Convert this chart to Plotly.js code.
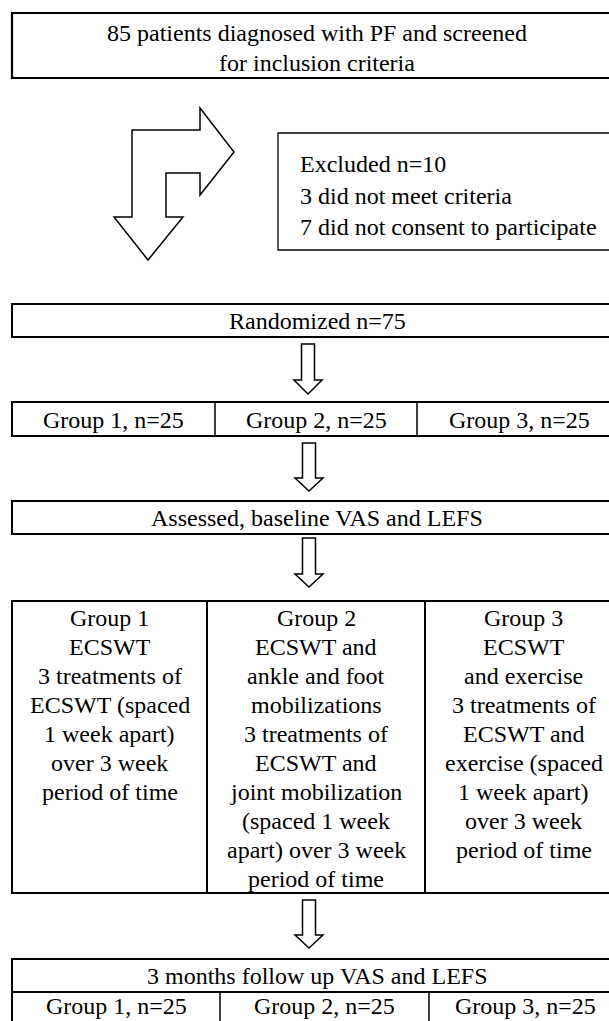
<!DOCTYPE html>
<html>
<head>
<meta charset="utf-8">
<script src="https://cdn.plot.ly/plotly-3.0.1.min.js"></script>
<style>html,body{margin:0;padding:0;background:#fff;}#chart{width:609px;height:1021px;}</style>
</head>
<body>
<div id="chart"></div>
<script>
// ---- Data (text content of the flowchart) ----
const screenedLines = ["85 patients diagnosed with PF and screened", "for inclusion criteria"];
const excludedLines = ["Excluded n=10", "3 did not meet criteria", "7 did not consent to participate"];
const randomizedLabel = "Randomized n=75";
const allocationLabels = ["Group 1, n=25", "Group 2, n=25", "Group 3, n=25"];
const assessedLabel = "Assessed, baseline VAS and LEFS";
const group1Lines = ["Group 1", "ECSWT", "3 treatments of", "ECSWT (spaced", "1 week apart)", "over 3 week", "period of time"];
const group2Lines = ["Group 2", "ECSWT and", "ankle and foot", "mobilizations", "3 treatments of", "ECSWT and", "joint mobilization", "(spaced 1 week", "apart) over 3 week", "period of time"];
const group3Lines = ["Group 3", "ECSWT", "and exercise", "3 treatments of", "ECSWT and", "exercise (spaced", "1 week apart)", "over 3 week", "period of time"];
const followUpLabel = "3 months follow up VAS and LEFS";
const followUpGroups = ["Group 1, n=25", "Group 2, n=25", "Group 3, n=25"];

// ---- Layout geometry ----
const FONT = {family: "Liberation Serif", size: 24, color: "#000"};
const L = 12, R = 622;
const shapes = [];
const annotations = [];

function rect(x0, y0, x1, y1, w) {
  shapes.push({type: "rect", xref: "x", yref: "y", x0, y0, x1, y1,
    line: {color: "#000", width: w || 2}, fillcolor: "rgba(0,0,0,0)"});
}
function vline(x, y0, y1, w) {
  shapes.push({type: "line", xref: "x", yref: "y", x0: x, x1: x, y0, y1, line: {color: "#000", width: w || 1.5}});
}
function hline(y, x0, x1, w) {
  shapes.push({type: "line", xref: "x", yref: "y", x0, x1, y0: y, y1: y, line: {color: "#000", width: w || 1.5}});
}
function text(t, x, y, anchor) {
  annotations.push({text: t, x, y, xref: "x", yref: "y", showarrow: false,
    xanchor: anchor || "center", yanchor: "middle", font: FONT});
}
function downArrow(cx, top, shaftBottom, tip) {
  const sw = 6.5, hw = 14;
  const p = `M ${cx - sw} ${top} L ${cx + sw} ${top} L ${cx + sw} ${shaftBottom} L ${cx + hw} ${shaftBottom} ` +
            `L ${cx} ${tip} L ${cx - hw} ${shaftBottom} L ${cx - sw} ${shaftBottom} Z`;
  shapes.push({type: "path", xref: "x", yref: "y", path: p, line: {color: "#000", width: 1.5}, fillcolor: "#fff"});
}

// Screening box
rect(L, 13, R, 78, 2.2);
screenedLines.forEach((t, i) => text(t, (L + R) / 2, 33 + i * 30));

// Bent arrow
shapes.push({type: "path", xref: "x", yref: "y",
  path: "M 114 217 L 132 217 L 132 130 L 200 130 L 200 108 L 234 152 L 200 195 L 200 173 L 166 173 L 166 217 L 183 217 L 148 260 Z",
  line: {color: "#000", width: 1.5}, fillcolor: "#fff"});

// Excluded box
rect(278, 133, R, 250, 1.3);
excludedLines.forEach((t, i) => text(t, 298, 164 + i * 31.5, "left"));

// Randomized
rect(L, 304, R, 337, 2);
text(randomizedLabel, (L + R) / 2, 321);
downArrow(308, 344, 380, 394);

// Allocation row
const allocDiv = [L, 215, 417, R];
rect(L, 402, R, 436, 2);
vline(215, 402, 436); vline(417, 402, 436);
allocationLabels.forEach((t, i) => text(t, (allocDiv[i] + allocDiv[i + 1]) / 2, 419.5));
downArrow(309, 443, 478, 491);

// Assessed
rect(L, 501, R, 534, 2);
text(assessedLabel, (L + R) / 2, 518);
downArrow(309, 538, 574, 587);

// Intervention box
const intDiv = [L, 207, 425, R];
rect(L, 601, R, 893, 2);
vline(207, 601, 893, 2); vline(425, 601, 893, 2);
[group1Lines, group2Lines, group3Lines].forEach((lines, c) => {
  const cx = (intDiv[c] + intDiv[c + 1]) / 2;
  lines.forEach((t, i) => text(t, cx, 618 + i * 29));
});
downArrow(309, 900, 935, 948);

// Follow-up box
const fuDiv = [L, 220, 429, R];
rect(L, 959, R, 1030, 2);
hline(992, L, R, 2);
vline(220, 992, 1030); vline(429, 992, 1030);
text(followUpLabel, (L + R) / 2, 976);
followUpGroups.forEach((t, i) => text(t, (fuDiv[i] + fuDiv[i + 1]) / 2, 1006));

const layout = {
  width: 609, height: 1021, autosize: false,
  margin: {l: 0, r: 0, t: 0, b: 0, pad: 0},
  paper_bgcolor: "#fff", plot_bgcolor: "#fff",
  xaxis: {range: [0, 609], visible: false, fixedrange: true},
  yaxis: {range: [1021, 0], visible: false, fixedrange: true},
  showlegend: false,
  shapes, annotations
};
Plotly.newPlot("chart", [{x: [], y: [], type: "scatter", mode: "markers", hoverinfo: "skip"}], layout, {staticPlot: true, displayModeBar: false});
</script>
</body>
</html>
